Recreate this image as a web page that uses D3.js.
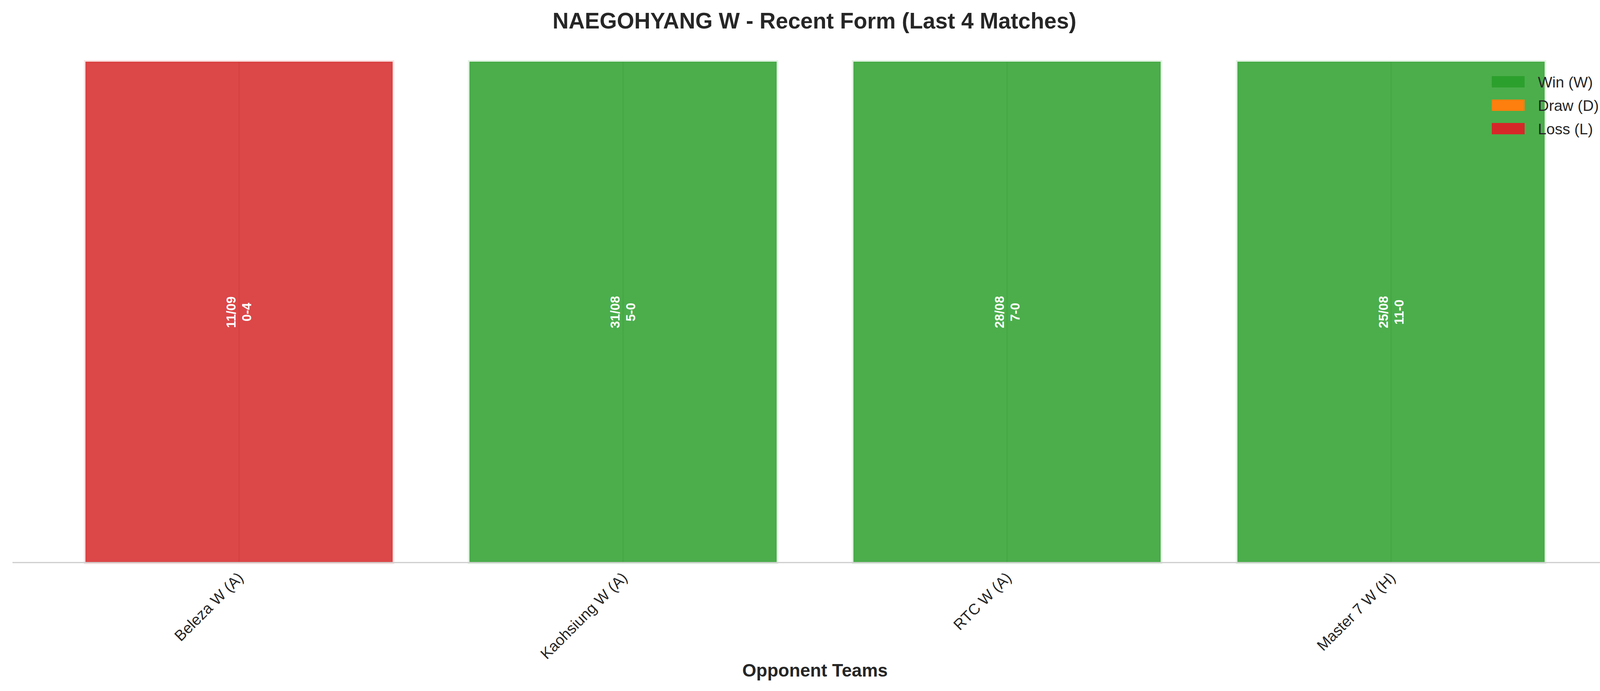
<!DOCTYPE html>
<html>
    <head>
        <script src="https://d3js.org/d3.v7.min.js"></script>
        <style>
            body {
                margin: 0;
                overflow: hidden;
                background: #fff;
            }
            text {
                font-family: 'Liberation Sans', Arial, sans-serif;
                fill: #262626;
            }
        </style>
    </head>

    <body>
        <script>
            // last 4 matches, most recent first
            const opponents = ['Beleza W (A)', 'Kaohsiung W (A)', 'RTC W (A)', 'Master 7 W (H)'];
            const dates = ['11/09', '31/08', '28/08', '25/08'];
            const scores = ['0-4', '5-0', '7-0', '11-0'];
            const results = ['L', 'W', 'W', 'W'];
            const barValues = [1, 1, 1, 1];

            const legendKeys = ['W', 'D', 'L'];
            const legendLabels = ['Win (W)', 'Draw (D)', 'Loss (L)'];
            const resultColors = { W: '#2ca02c', D: '#ff7f0e', L: '#d62728' };

            const width = 4170;
            const height = 1770;
            const plot = { left: 32, right: 4141, top: 158, bottom: 1441 };

            const svg = d3.select('body').append('svg').attr('width', width).attr('height', height);

            const x = d3.scaleBand().domain(opponents).range([plot.left, plot.right]).paddingInner(0.2).paddingOuter(0.19);
            const y = d3.scaleLinear().domain([0, 1]).range([plot.bottom, plot.top]);

            const matches = opponents.map((o, i) => ({ opponent: o, date: dates[i], score: scores[i], result: results[i], value: barValues[i] }));

            // vertical grid lines (sit under the translucent bars)
            svg.append('g')
                .selectAll('line')
                .data(opponents)
                .join('line')
                .attr('x1', (d) => x(d) + x.bandwidth() / 2)
                .attr('x2', (d) => x(d) + x.bandwidth() / 2)
                .attr('y1', y(1))
                .attr('y2', y(0))
                .attr('stroke', '#cccccc')
                .attr('stroke-width', 3);

            // bars
            svg.append('g')
                .selectAll('rect')
                .data(matches)
                .join('rect')
                .attr('x', (d) => x(d.opponent))
                .attr('y', (d) => y(d.value))
                .attr('width', x.bandwidth())
                .attr('height', (d) => y(0) - y(d.value))
                .attr('fill', (d) => resultColors[d.result])
                .attr('fill-opacity', 0.85)
                .attr('stroke', (d) => resultColors[d.result])
                .attr('stroke-opacity', 0.13)
                .attr('stroke-width', 8);

            // date + score inside bars
            const inner = svg.append('g')
                .selectAll('text')
                .data(matches)
                .join('text')
                .attr('transform', (d) => `translate(${x(d.opponent) + x.bandwidth() / 2},${y(d.value / 2)}) rotate(-90)`)
                .attr('text-anchor', 'middle')
                .style('font-size', '33px')
                .style('font-weight', 'bold')
                .style('fill', '#fff');
            inner.append('tspan').attr('x', 0).attr('y', -20).attr('dominant-baseline', 'central').text((d) => d.date);
            inner.append('tspan').attr('x', 0).attr('y', 20).attr('dominant-baseline', 'central').text((d) => d.score);

            // x axis
            const xAxis = svg.append('g')
                .attr('transform', `translate(0,${plot.bottom})`)
                .call(d3.axisBottom(x).tickSize(0).tickPadding(0));
            xAxis.select('.domain').attr('stroke', '#cccccc').attr('stroke-width', 3).attr('d', `M${plot.left},0H${plot.right}`);
            xAxis.selectAll('.tick text')
                .attr('transform', 'translate(-6,22) rotate(-45)')
                .attr('text-anchor', 'end')
                .attr('dy', '0.7em')
                .attr('y', 0)
                .style('font-size', '39px')
                .style('font-family', "'Liberation Sans', Arial, sans-serif")
                .style('fill', '#262626');

            svg.append('text')
                .attr('x', (plot.left + plot.right) / 2)
                .attr('y', 1733)
                .attr('text-anchor', 'middle')
                .style('font-size', '46px')
                .style('font-weight', 'bold')
                .text('Opponent Teams');

            svg.append('text')
                .attr('x', width / 2)
                .attr('y', 73)
                .attr('text-anchor', 'middle')
                .style('font-size', '57px')
                .style('font-weight', 'bold')
                .text('NAEGOHYANG W - Recent Form (Last 4 Matches)');

            // legend
            const legend = svg.append('g').attr('transform', 'translate(3819,195)');
            const item = legend.selectAll('g')
                .data(legendKeys)
                .join('g')
                .attr('transform', (d, i) => `translate(0,${i * 60})`);
            item.append('rect').attr('width', 84).attr('height', 29).attr('fill', (d) => resultColors[d]);
            item.append('text')
                .attr('x', 118)
                .attr('y', 15)
                .attr('dominant-baseline', 'central')
                .style('font-size', '39px')
                .text((d, i) => legendLabels[i]);
        </script>
    </body>
</html>
